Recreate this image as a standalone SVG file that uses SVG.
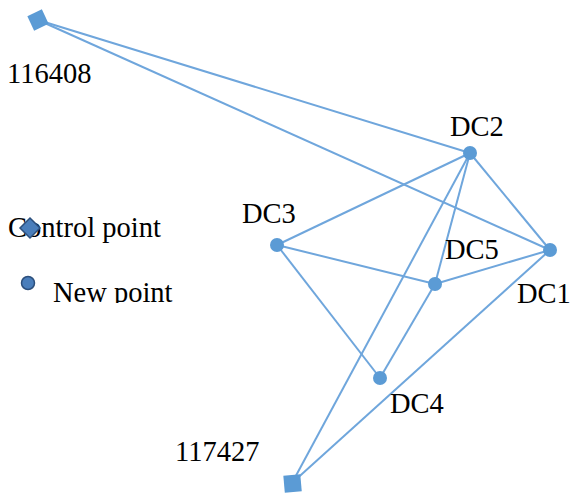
<svg xmlns="http://www.w3.org/2000/svg" width="573" height="495" viewBox="0 0 573 495">
<style>
.e{stroke:#6fa6dc;stroke-width:2;fill:none}
.n{fill:#5b9bd5}
.t{font-family:'Liberation Serif','Times New Roman','DejaVu Serif',serif;font-size:28.5px;fill:#000}
.lg{fill:#4a7ebb;stroke:#2c4f7c;stroke-width:1.5}
</style>
<defs><clipPath id="cp"><rect x="0" y="0" width="573" height="303"/></clipPath></defs>
<rect width="573" height="495" fill="#fff"/>
<g id="connectors">
<line class="e" x1="38" y1="20" x2="470" y2="153"/>
<line class="e" x1="38" y1="20" x2="550" y2="250"/>
<line class="e" x1="470" y1="153" x2="277" y2="245"/>
<line class="e" x1="470" y1="153" x2="550" y2="250"/>
<line class="e" x1="470" y1="153" x2="435" y2="284"/>
<line class="e" x1="470" y1="153" x2="292" y2="483"/>
<line class="e" x1="277" y1="245" x2="435" y2="284"/>
<line class="e" x1="277" y1="245" x2="380" y2="378"/>
<line class="e" x1="435" y1="284" x2="550" y2="250"/>
<line class="e" x1="435" y1="284" x2="380" y2="378"/>
<line class="e" x1="550" y1="250" x2="292" y2="483"/>
</g>
<g id="n116408"><rect class="n" x="30" y="12" width="16" height="16" transform="rotate(-25 38 20)"/><text class="t" x="7" y="83">116408</text></g>
<g id="n117427"><rect class="n" x="284" y="475" width="17" height="17" transform="rotate(-5 292 483)"/><text class="t" x="175" y="461">117427</text></g>
<g id="DC2"><circle class="n" cx="470" cy="153" r="7"/><text class="t" x="450" y="136">DC2</text></g>
<g id="DC3"><circle class="n" cx="277" cy="245" r="7"/><text class="t" x="242" y="223">DC3</text></g>
<g id="DC5"><circle class="n" cx="435" cy="284" r="7"/><text class="t" x="445" y="259">DC5</text></g>
<g id="DC1"><circle class="n" cx="550" cy="250" r="7"/><text class="t" x="517" y="303">DC1</text></g>
<g id="DC4"><circle class="n" cx="380" cy="378" r="7"/><text class="t" x="390" y="413">DC4</text></g>
<g id="legend">
<text class="t" x="8" y="237">Control point</text>
<polygon class="lg" points="30,218 40,228 30,238 20,228"/>
<circle class="lg" cx="28" cy="283" r="6.5"/>
<text class="t" x="53" y="302" clip-path="url(#cp)">New point</text>
</g>
</svg>
